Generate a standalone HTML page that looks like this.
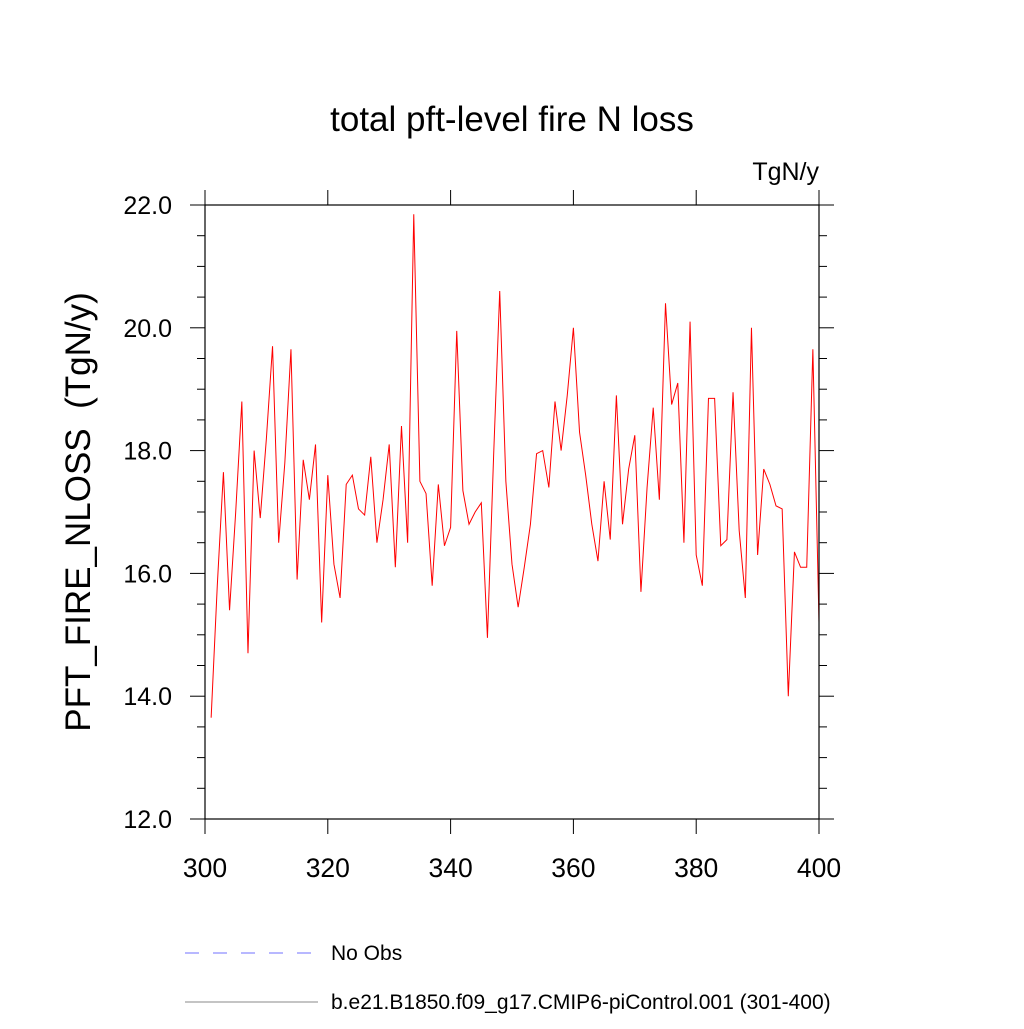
<!DOCTYPE html>
<html><head><meta charset="utf-8"><style>
body{margin:0;background:#fff}
svg text{font-family:"Liberation Sans",sans-serif;fill:#000}
</style></head><body>
<svg width="1024" height="1024">
<text x="512" y="131" font-size="35" text-anchor="middle">total pft-level fire N loss</text>
<text x="819" y="180" font-size="25" text-anchor="end">TgN/y</text>
<text transform="translate(90,512) rotate(-90)" font-size="35" text-anchor="middle" style="white-space:pre">PFT_FIRE_NLOSS  (TgN/y)</text>
<g id="axes"></g>
<polyline id="series" fill="none" stroke="#ff0000" stroke-width="1"/>
<rect x="205" y="205" width="614" height="614" fill="none" stroke="#000" stroke-width="1.2"/>
<line x1="185" y1="953" x2="318" y2="953" stroke="#7070ff" stroke-dasharray="14,14"/>
<text x="331" y="960" font-size="21">No Obs</text>
<line x1="185" y1="1002" x2="318" y2="1002" stroke="#888"/>
<text x="331" y="1009" font-size="21">b.e21.B1850.f09_g17.CMIP6-piControl.001 (301-400)</text>
</svg>
<script>
const years=[];for(let i=301;i<=400;i++)years.push(i);
const values=[13.65,15.8,17.65,15.4,17.0,18.8,14.7,18.0,16.9,18.2,19.7,16.5,17.8,19.65,15.9,17.85,17.2,18.1,15.2,17.6,16.15,15.6,17.45,17.6,17.05,16.95,17.9,16.5,17.2,18.1,16.1,18.4,16.5,21.85,17.5,17.3,15.8,17.45,16.45,16.75,19.95,17.35,16.8,17.0,17.15,14.95,17.9,20.6,17.5,16.15,15.45,16.1,16.8,17.95,18.0,17.4,18.8,18.0,18.9,20.0,18.3,17.6,16.8,16.2,17.5,16.55,18.9,16.8,17.7,18.25,15.7,17.4,18.7,17.2,20.4,18.75,19.1,16.5,20.1,16.3,15.8,18.85,18.85,16.45,16.55,18.95,16.7,15.6,20.0,16.3,17.7,17.45,17.1,17.05,14.0,16.35,16.1,16.1,19.65,15.2];
const xTicks=[300,320,340,360,380,400];
const yTicks=[12,14,16,18,20,22];
const X=v=>205+(v-300)*6.14, Y=v=>819-(v-12)*61.4;
const ns='http://www.w3.org/2000/svg', g=document.getElementById('axes');
function ln(x1,y1,x2,y2,name){const l=document.createElementNS(ns,'line');
l.setAttribute('x1',x1);l.setAttribute('y1',y1);l.setAttribute('x2',x2);l.setAttribute('y2',y2);l.setAttribute('stroke','#000');


g.appendChild(l);}
function tx(x,y,s,anchor,name,fs){const t=document.createElementNS(ns,'text');
t.setAttribute('x',x);t.setAttribute('y',y);t.setAttribute('font-size',fs);t.setAttribute('text-anchor',anchor);t.textContent=s;


g.appendChild(t);}
for(let v=12;v<=22.001;v+=0.5){const y=Y(v),maj=Math.abs(v-Math.round(v/2)*2)<1e-6,L=maj?15:8;
ln(205-L,y,205,y,'y-tick');ln(819,y,819+L,y,'y-tick-right');}
yTicks.forEach(v=>tx(172,Y(v)+9,v.toFixed(1),'end','y-tick-label','25'));
xTicks.forEach(v=>{const x=X(v);ln(x,819,x,834,'x-tick');ln(x,190,x,205,'x-tick-top');});
xTicks.forEach(v=>tx(X(v),877,String(v),'middle','x-tick-label','26.5'));
document.getElementById('series').setAttribute('points',years.map((yr,i)=>X(yr)+','+Y(values[i])).join(' '));
</script>
</body></html>
